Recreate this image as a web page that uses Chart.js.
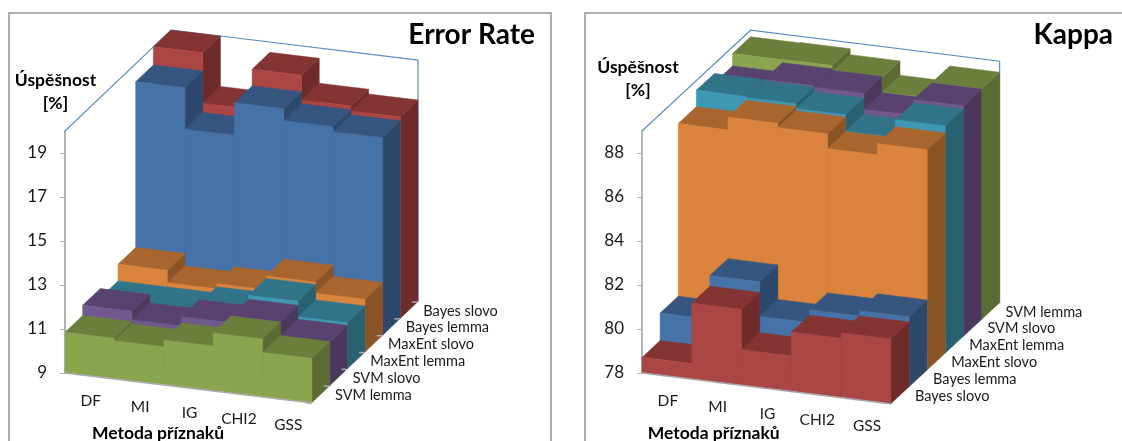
<!DOCTYPE html>
<html>
<head>
<meta charset="utf-8">
<script src="https://cdn.jsdelivr.net/npm/chart.js@4"></script>
<style>
	html, body { margin: 0; padding: 0; background: #fff; overflow: hidden; }
	#page { position: relative; width: 1122px; height: 441px; overflow: hidden; }
	canvas { position: absolute; top: 0; }
	.frame { position: absolute; top: 12px; height: 460px; box-sizing: border-box; border: 2px solid #aeaeae; }
</style>
</head>
<body>
<div id="page">
	<div class="frame" style="left:8px; width:544px;"></div>
	<div class="frame" style="left:584px; width:560px;"></div>
	<canvas id="errChart" width="537" height="441" style="left:0"></canvas>
	<canvas id="kappaChart" width="538" height="441" style="left:577px"></canvas>
</div>
<script>
var categories = ['DF', 'MI', 'IG', 'CHI2', 'GSS'];

// front row first
var errSeriesNames = ['SVM lemma', 'SVM slovo', 'MaxEnt lemma', 'MaxEnt slovo', 'Bayes lemma', 'Bayes slovo'];
var errSvmLemma = [10.85, 10.74, 11.05, 11.64, 11.03];
var errSvmSlovo = [11.31, 10.92, 11.34, 11.64, 11.0];
var errMaxEntLemma = [10.89, 10.89, 11.17, 11.82, 11.12];
var errMaxEntSlovo = [11.65, 11.08, 11.31, 11.93, 11.42];
var errBayesLemma = [19.18, 17.29, 18.77, 18.23, 18.0];
var errBayesSlovo = [20.0, 17.71, 19.53, 18.4, 18.18];
var errTicks = [9, 11, 13, 15, 17, 19];

var kappaSeriesNames = ['Bayes slovo', 'Bayes lemma', 'MaxEnt slovo', 'MaxEnt lemma', 'SVM slovo', 'SVM lemma'];
var kappaBayesSlovo = [78.71, 81.46, 79.63, 80.71, 80.96];
var kappaBayesLemma = [79.96, 81.95, 80.38, 80.96, 81.2];
var kappaMaxEntSlovo = [87.81, 88.39, 88.19, 87.52, 88.03];
var kappaMaxEntLemma = [88.56, 88.51, 88.29, 87.54, 88.35];
var kappaSvmSlovo = [88.14, 88.57, 88.5, 87.78, 88.5];
var kappaSvmLemma = [88.7, 88.72, 88.45, 87.8, 88.5];
var kappaTicks = [78, 80, 82, 84, 86, 88];

var RED = { front: '#aa4643', top: '#833433', side: '#6e2b2a' };
var BLUE = { front: '#4572a7', top: '#36567f', side: '#2d486b' };
var ORANGE = { front: '#db843d', top: '#a8652e', side: '#8a5427' };
var TEAL = { front: '#3f98b3', top: '#31748a', side: '#286170' };
var PURPLE = { front: '#71588f', top: '#5a4270', side: '#4a395c' };
var GREEN = { front: '#89a54e', top: '#6b7f3c', side: '#5a6b33' };

var FONT = 'Lato, Carlito, sans-serif';

// oblique projection of each chart: dx/dy = one row of depth, slope = fall of the floor per pixel
var views = {
	errChart: { dx: 17.67, dy: 16.83, slope: 0.1215, depthTicks: true, labelOffset: 23, titleY: 80, titleX: 55.5, captionX: 158, headRight: 535 },
	kappaChart: { dx: 18.1, dy: 16.8, slope: 0.1245, depthTicks: false, labelOffset: 24, titleY: 67, titleX: 61, captionX: 136.7, headRight: 536 }
};

function project(chart, px, py, depth) {
	var view = views[chart.canvas.id];
	return {
		x: px + depth * view.dx,
		y: py + (px - chart.chartArea.left) * view.slope - depth * view.dy
	};
}

function fillPoly(ctx, points, color) {
	ctx.beginPath();
	ctx.moveTo(points[0].x, points[0].y);
	for (var i = 1; i < points.length; i++) {
		ctx.lineTo(points[i].x, points[i].y);
	}
	ctx.closePath();
	ctx.fillStyle = color;
	ctx.fill();
	// same colour stroke closes the hairline between faces
	ctx.strokeStyle = color;
	ctx.lineWidth = 0.5;
	ctx.stroke();
}

// bars are laid out by the normal bar controller, only the painting differs
class Bar3dController extends Chart.BarController {
	draw() {
		var chart = this.chart;
		var ctx = chart.ctx;
		var depth = this.index;
		var colors = this.getDataset().tones;
		var bars = this.getMeta().data;

		bars.forEach(function(bar) {
			var l = bar.x - bar.width / 2;
			var r = bar.x + bar.width / 2;
			var a = project(chart, l, bar.y, depth);
			var b = project(chart, r, bar.y, depth);
			var c = project(chart, r, bar.base, depth);
			var d = project(chart, l, bar.base, depth);
			var a2 = project(chart, l, bar.y, depth + 1);
			var b2 = project(chart, r, bar.y, depth + 1);
			var c2 = project(chart, r, bar.base, depth + 1);

			fillPoly(ctx, [b, b2, c2, c], colors.side);
			fillPoly(ctx, [a, a2, b2, b], colors.top);
			fillPoly(ctx, [a, b, c, d], colors.front);
		});
	}
}
Bar3dController.id = 'bar3d';
Bar3dController.defaults = Chart.BarController.defaults;
Bar3dController.overrides = Chart.BarController.overrides;
Chart.register(Bar3dController);

var wallPlugin = {
	id: 'wallPlugin',
	beforeDatasetsDraw: function(chart) {
		var ctx = chart.ctx;
		var area = chart.chartArea;
		var rows = chart.data.datasets.length;
		var p1 = project(chart, area.left, area.top, 0);
		var p2 = project(chart, area.left, area.top, rows);
		var p3 = project(chart, area.right, area.top, rows);
		var p4 = project(chart, area.right, area.bottom, rows);

		ctx.save();
		ctx.strokeStyle = '#5f8fcb';
		ctx.lineWidth = 1.2;
		ctx.beginPath();
		ctx.moveTo(p1.x, p1.y);
		ctx.lineTo(p2.x, p2.y);
		ctx.lineTo(p3.x, p3.y);
		ctx.lineTo(p4.x, p4.y);
		ctx.stroke();
		ctx.restore();
	},
	afterDatasetsDraw: function(chart) {
		var ctx = chart.ctx;
		var area = chart.chartArea;
		var view = views[chart.canvas.id];
		var xScale = chart.scales.x;
		var rows = chart.data.datasets.length;
		var a = project(chart, area.left, area.bottom, 0);
		var b = project(chart, area.right, area.bottom, 0);

		ctx.save();
		ctx.strokeStyle = '#a9a9b0';
		ctx.lineWidth = 1.5;
		ctx.beginPath();
		ctx.moveTo(a.x, a.y);
		ctx.lineTo(b.x, b.y);
		ctx.stroke();

		if (view.depthTicks) {
			for (var k = 0; k <= rows; k++) {
				var t = project(chart, area.right, area.bottom, k);
				ctx.beginPath();
				ctx.moveTo(t.x - 6, t.y);
				ctx.lineTo(t.x, t.y);
				ctx.stroke();
			}
		}

		ctx.fillStyle = '#1a1a1a';
		ctx.textBaseline = 'middle';

		// the floor is sloped, so the category labels follow it by hand
		ctx.font = '15.5px ' + FONT;
		ctx.textAlign = 'center';
		chart.data.labels.forEach(function(label, i) {
			var p = project(chart, xScale.getPixelForTick(i), area.bottom, 0);
			ctx.fillText(label, p.x + 1, p.y + 25);
		});

		// row names along the right edge of the floor
		ctx.font = '14.5px ' + FONT;
		ctx.textAlign = 'left';
		chart.data.datasets.forEach(function(ds, k) {
			var p = project(chart, area.right, area.bottom, k);
			ctx.fillText(ds.label, p.x + view.labelOffset, p.y - 8);
		});

		// axis captions
		ctx.fillStyle = '#000';
		ctx.font = 'bold 17.5px ' + FONT;
		ctx.textAlign = 'center';
		ctx.fillText('Metoda příznaků', view.captionX, 433);
		ctx.fillText('Úspěšnost', view.titleX, view.titleY);
		ctx.fillText('[%]', view.titleX, view.titleY + 23);

		ctx.font = 'bold 28px ' + FONT;
		ctx.textAlign = 'right';
		ctx.fillText(chart.options.headText, view.headRight, 35);
		ctx.restore();
	}
};

function buildDatasets(names, values, tones) {
	var datasets = new Array();
	names.forEach(function(name, i) {
		datasets.push({
			label: name,
			data: values[i],
			tones: tones[i],
			backgroundColor: tones[i].front,
			clip: false
		});
	});
	return datasets;
}

function createChart(id, titleText, datasets, ticks, min, max, paddingRight) {
	return new Chart(document.getElementById(id), {
		type: 'bar3d',
		data: { labels: categories, datasets: datasets },
		options: {
			headText: titleText,
			responsive: false,
			animation: false,
			grouped: false,
			base: min,
			categoryPercentage: 1,
			barPercentage: 1,
			layout: { padding: { left: 0, right: paddingRight, top: 131, bottom: 68 } },
			plugins: {
				legend: { display: false },
				tooltip: { enabled: false },
				title: { display: false }
			},
			scales: {
				x: { display: false, grid: { display: false } },
				y: {
					min: min,
					max: max,
					position: 'left',
					afterBuildTicks: function(scale) {
						scale.ticks = ticks.map(function(v) { return { value: v }; });
					},
					afterFit: function(scale) { scale.width = 65; },
					border: { color: '#b2b2ba', width: 2 },
					grid: { drawOnChartArea: false, color: '#b2b2ba', tickLength: 5 },
					ticks: { color: '#1a1a1a', padding: 13, font: { family: FONT, size: 17 } }
				}
			}
		},
		plugins: [wallPlugin]
	});
}

var errTones = [GREEN, PURPLE, TEAL, ORANGE, BLUE, RED];
var kappaTones = [RED, BLUE, ORANGE, TEAL, PURPLE, GREEN];

createChart('errChart', 'Error Rate',
	buildDatasets(errSeriesNames, [errSvmLemma, errSvmSlovo, errMaxEntLemma, errMaxEntSlovo, errBayesLemma, errBayesSlovo], errTones),
	errTicks, 9, 20, 225);

createChart('kappaChart', 'Kappa',
	buildDatasets(kappaSeriesNames, [kappaBayesSlovo, kappaBayesLemma, kappaMaxEntSlovo, kappaMaxEntLemma, kappaSvmSlovo, kappaSvmLemma], kappaTones),
	kappaTicks, 78, 89, 224);
</script>
</body>
</html>
